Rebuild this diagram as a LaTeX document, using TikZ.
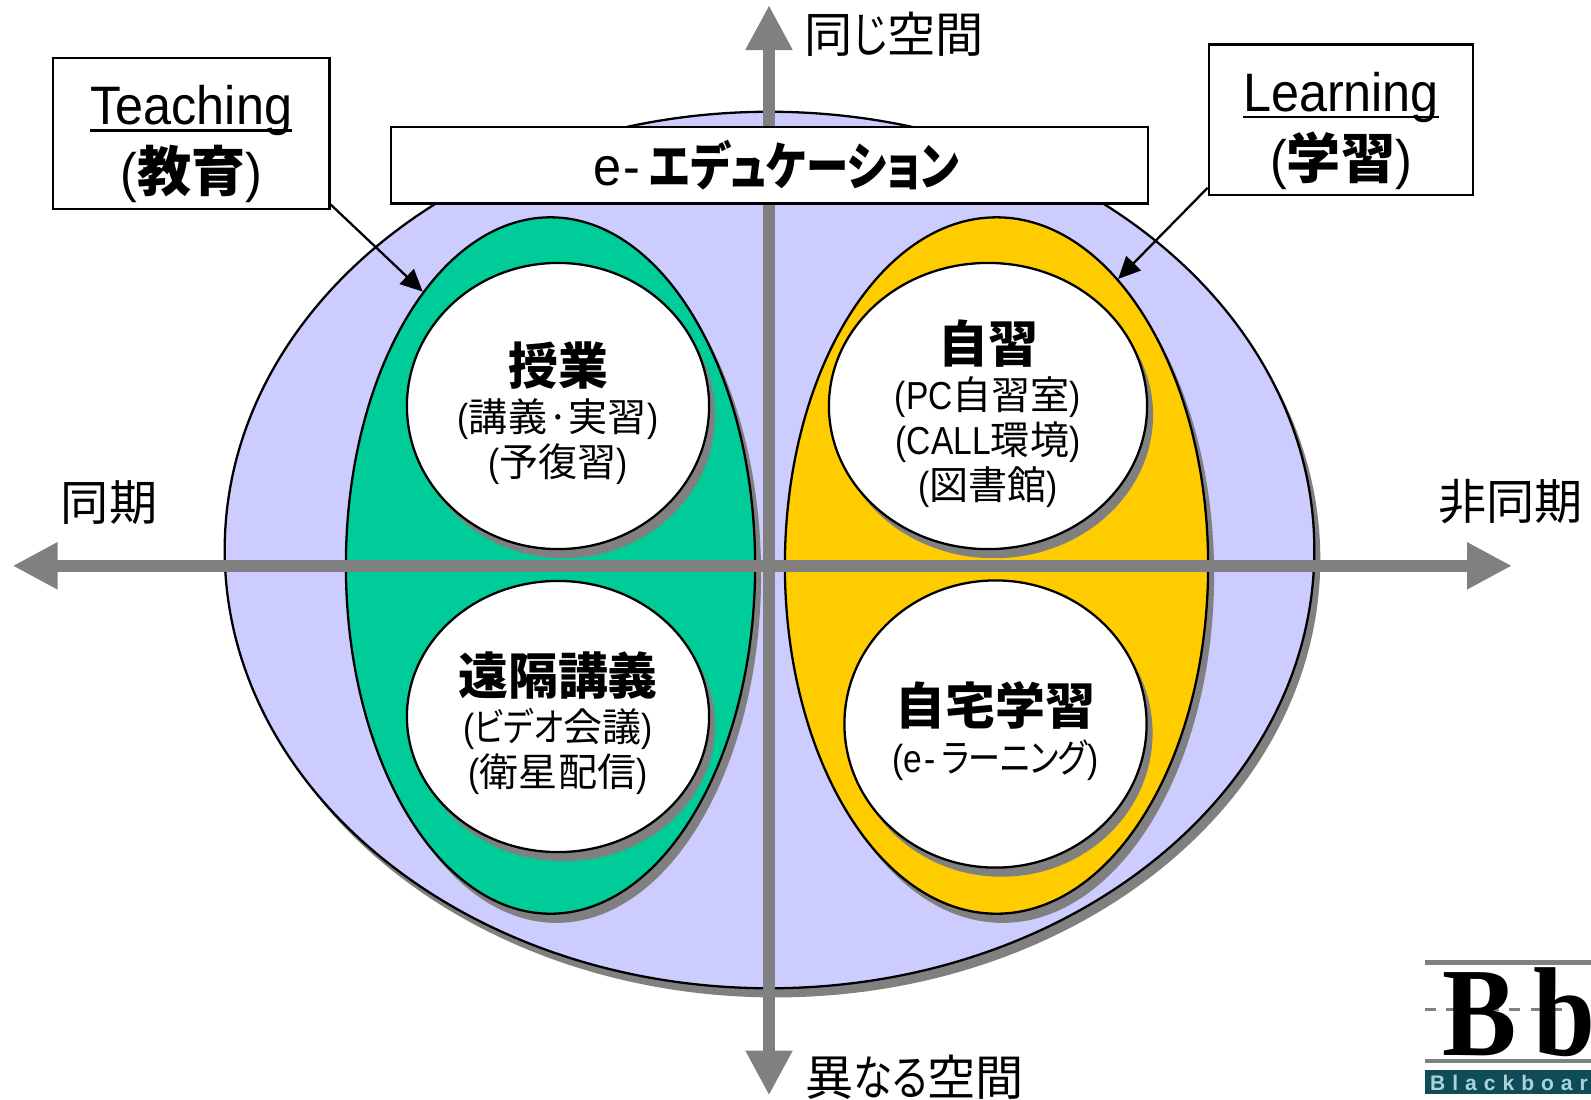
\documentclass[tikz,border=0pt]{standalone}
\usepackage{fontspec}
\setmainfont[FakeStretch=0.86]{Liberation Sans}
\newfontfamily\tagfont[FakeStretch=0.93]{Liberation Sans}
\newfontfamily\jp[RawFeature=+palt]{Noto Sans CJK JP}
\newfontfamily\jk[RawFeature=+palt,FakeStretch=0.82]{Noto Sans CJK JP}
\newfontfamily\logoserif[FakeStretch=0.88]{Liberation Serif}
\newfontfamily\logosans[LetterSpace=33]{Liberation Sans}
\usetikzlibrary{arrows.meta,shapes.geometric,shadows}
\definecolor{c0}{rgb}{0.8,0.8,1}
\definecolor{c1}{rgb}{0,0.8,0.6}
\definecolor{c2}{rgb}{1,0.8,0}
\definecolor{c3}{rgb}{0.5,0.5,0.5}
\definecolor{c4}{rgb}{0.06,0.3,0.34}
\definecolor{c5}{rgb}{0.66,0.83,0.85}
\newcommand{\hd}[1]{{\fontsize{14.2pt}{16pt}\selectfont\jp\bfseries #1}}
\newcommand{\ubar}[1]{\rule{0pt}{17.3pt}\setbox0\hbox{#1}\rlap{\vrule width\wd0 height -1.3pt depth 2.1pt}\box0}
\tikzset{%
  cast/.style={drop shadow={shadow xshift=1.7pt,shadow yshift=-2.6pt,opacity=1,fill=c3}},
  oval/.style={ellipse,draw,cast,fill=#1,inner sep=0pt},
  oval/.default=white,
  axis/.style={c3,line width=3.5pt,{Triangle[length=12.8pt,width=12.5pt]}-{Triangle[length=12.8pt,width=12.5pt]}},
  pointer/.style={-{Triangle[length=6.3pt,width=5.8pt]}},
  tag/.style={draw,fill=white,inner sep=0pt,align=center,line width=0.7pt,font=\tagfont\fontsize{15.4pt}{19.1pt}\selectfont},
  lab/.style={inner sep=0pt,font=\fontsize{13.7pt}{16pt}\selectfont\jp},
  txt/.style={inner sep=0pt,align=center,font=\fontsize{11.1pt}{12.8pt}\selectfont}
}
\begin{document}
\begin{tikzpicture}[x=0.01cm,y=-0.01cm,line width=0.65pt]
  \useasboundingbox (0,0) rectangle (1591,1099);
  \node[oval=c0,minimum width=10.89cm,minimum height=8.76cm] (whole) at (769.5,550) {};
  %%% the two eggs
  \node[oval=c1,minimum width=4.09cm,minimum height=6.96cm] (eggsync) at (550.5,565.5) {};
  \node[oval=c2,minimum width=4.23cm,minimum height=6.96cm] (eggasync) at (996.5,565.5) {};
  \node[oval,minimum width=3.02cm,minimum height=2.86cm] (jugyo) at (558,406) {};
  \node[oval,minimum width=3.02cm,minimum height=2.71cm] (enkaku) at (558,716.5) {};
  \node[oval,minimum width=3.18cm,minimum height=2.86cm] (jishu) at (988,406) {};
  \node[oval,minimum width=3.02cm,minimum height=2.87cm] (jitaku) at (995.5,724) {};
  %%%
  \coordinate (west) at (12.5,565.8);
  \coordinate (east) at (1512,565.8);
  \coordinate (north) at (769,5);
  \coordinate (south) at (769,1095.5);
  \draw[axis] (north) -- (south);
  \draw[axis] (west) -- (east);
  \node[tag,minimum width=2.76cm,minimum height=1.51cm] (teaching) at (191.3,133.5) {\ubar{Teaching}\\({\jp\bfseries 教育})};
  \node[tag,minimum width=2.64cm,minimum height=1.505cm] (learning) at (1341,119.8) {\ubar{Learning}\\({\jp\bfseries 学習})};
  \node[tag,minimum width=7.57cm,minimum height=0.765cm] (edu) at (769.5,165.2) {\kern3.8pt\raisebox{-0.5pt}{e\kern0.8pt-\kern2.5pt{\jk\bfseries\fontsize{14.7pt}{16pt}\selectfont エデュケーション}}};
  \draw[pointer] (teaching.-27) -- (eggsync.115.4);
  \draw[pointer] (learning.207) -- (eggasync.67.2);
  %%%
  \node[lab] (sync) at (109,502.5) {同期};
  \node[lab] (async) at (1510.5,502) {非同期};
  \node[lab] (same) at (894.5,34) {同{\jk じ}空間};
  \node[lab] (diff) at (914.5,1077) {異{\jk なる}空間};
  \node[txt] (jugyotxt) at (558,413) {\hd{授業}\\[0.6pt]({\jp 講義·実習})\\({\jp 予復習})};
  \node[txt] (enkakutxt) at (558,723) {\hd{遠隔講義}\\[0.6pt]({\jk ビデオ}{\jp 会議})\\({\jp 衛星配信})};
  \node[txt] (jishutxt) at (988,413.5) {\hd{自習}\\[0.6pt](PC{\jp 自習室})\\(CALL{\jp 環境})\\({\jp 図書館})};
  \node[txt] (jitakutxt) at (995.5,731) {\hd{自宅学習}\\[0.6pt](e\kern0.8pt-\kern1.5pt{\jk ラーニング})};
  %%% logo, cut by the page edge
  \begin{scope}
    \clip (1420,950) rectangle (1591,1099);
    \fill[c3] (1425,960) rectangle (1591,964.5);
    \draw[c3,dashed,line width=0.7pt] (1425,1009.7) -- (1591,1009.7);
    \fill[c3] (1425,1058.5) rectangle (1591,1063);
    \node[anchor=base west,inner sep=0pt,font=\logoserif\bfseries\fontsize{36pt}{36pt}\selectfont] (bb) at (1441,1055) {B\kern 5pt b};
    \fill[c4] (1425,1070) rectangle (1591,1094);
    \node[anchor=base west,inner sep=0pt,text=c5,font=\logosans\bfseries\fontsize{6pt}{6pt}\selectfont] (board) at (1429,1090) {Blackboar};
  \end{scope}
\end{tikzpicture}
\end{document}
